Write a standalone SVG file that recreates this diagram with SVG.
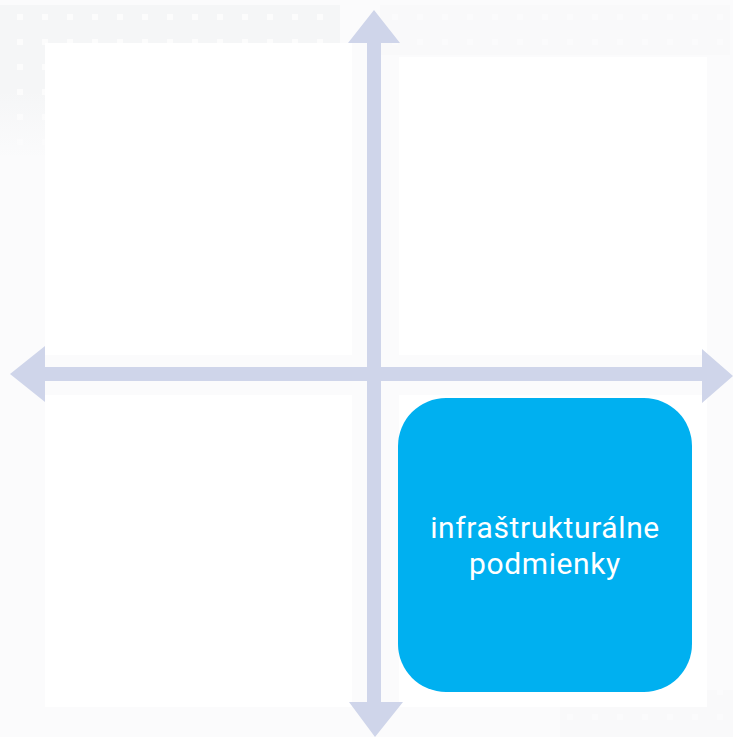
<svg xmlns="http://www.w3.org/2000/svg" width="733" height="737" viewBox="0 0 733 737">
  <defs>
    <pattern id="dots" x="0" y="0" width="25" height="25" patternUnits="userSpaceOnUse">
      <rect width="25" height="25" fill="#f5f6f7"/>
      <rect x="17" y="14" width="6" height="6" fill="#fcfcfc"/>
    </pattern>
    <linearGradient id="fade" x1="0" y1="0" x2="0" y2="1">
      <stop offset="0" stop-color="#fbfbfc" stop-opacity="0"/>
      <stop offset="1" stop-color="#fbfbfc" stop-opacity="1"/>
    </linearGradient>
    <style>
      .quad { fill: #ffffff; }
      .axis { fill: #cfd5ea; }
      .node { fill: #00b0f0; }
      .label { font-family: Roboto, "Open Sans", "Liberation Sans", sans-serif; font-size: 30px; letter-spacing: 0.6px; fill: #ffffff; text-anchor: middle; }
    </style>
  </defs>
  <rect width="733" height="737" fill="#fbfbfc"/>
  <rect x="0" y="5" width="340" height="150" fill="url(#dots)"/>
  <rect x="0" y="90" width="340" height="70" fill="url(#fade)"/>
  <rect x="380" y="5" width="350" height="50" fill="url(#dots)" opacity="0.4"/>
  <rect x="560" y="690" width="173" height="47" fill="url(#dots)" opacity="0.4"/>

  <g id="quadrants">
    <rect class="quad" x="45" y="43" width="307" height="312"/>
    <rect class="quad" x="399" y="57" width="308" height="298"/>
    <rect class="quad" x="45" y="395" width="307" height="312"/>
    <rect class="quad" x="399" y="395" width="308" height="312"/>
  </g>

  <g id="connectors">
    <polygon class="axis" points="367,43 348,43 374,10 400,43 381,43 381,702 403,702 375,737 349,702 367,702"/>
    <polygon class="axis" points="45,367 45,346 10,374 45,402 45,381 702,381 702,403 733,376 702,349 702,367"/>
  </g>

  <g id="node-infrastrukturalne">
    <rect class="node" x="398" y="398" width="294" height="294" rx="48" ry="48"/>
    <text class="label"><tspan x="545" y="538">infraštrukturálne</tspan><tspan x="545" y="574">podmienky</tspan></text>
  </g>
</svg>
